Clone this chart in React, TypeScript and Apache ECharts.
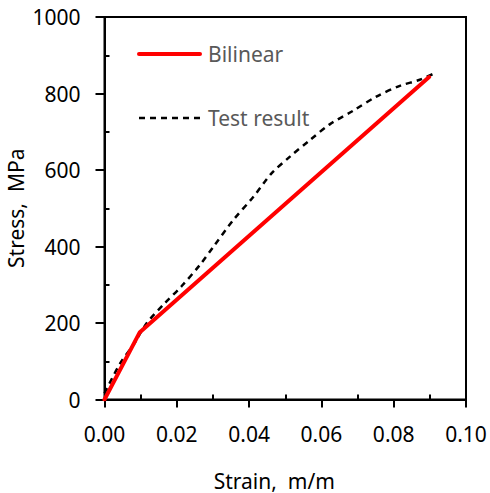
import React, { useEffect, useRef } from "react";
import * as echarts from "echarts";

const bilinearStrain = [0, 0.0097, 0.0898];
const bilinearStress = [0, 175, 843];

const testStrain = [0, 0.0043, 0.008, 0.0117, 0.0167, 0.0213, 0.0264, 0.0301, 0.0356, 0.0412, 0.0462, 0.0513, 0.0568, 0.0624, 0.0688, 0.0752, 0.0817, 0.0872, 0.0918];
const testStress = [16, 94, 143, 200, 252, 296, 352, 399, 469, 530, 591, 635, 678, 720, 755, 792, 820, 836, 855];

const xMinorTicks = [0.01, 0.03, 0.05, 0.07, 0.09];
const yMinorTicks = [100, 300, 500, 700, 900];

const FONT = "'Noto Sans', 'Open Sans', sans-serif";

export default function App() {
  const ref = useRef<HTMLDivElement>(null);
  useEffect(() => {
    if (!ref.current) return;
    const chart = echarts.init(ref.current, null, { renderer: "svg" });
    const bilinear = bilinearStrain.map((x, i) => [x, bilinearStress[i]]);
    const test = testStrain.map((x, i) => [x, testStress[i]]);
    chart.setOption({
      animation: false,
      backgroundColor: "#fff",
      textStyle: { fontFamily: FONT },
      grid: {
        left: 104.5,
        right: 24,
        top: 17,
        bottom: 93.5,
        outerBoundsMode: "none",
        containLabel: false,
        show: true,
        borderColor: "#000",
        borderWidth: 2,
        backgroundColor: "transparent",
      },
      legend: {
        orient: "vertical",
        left: 137,
        top: 42,
        padding: 0,
        itemWidth: 61,
        itemHeight: 14,
        itemGap: 40,
        itemStyle: { opacity: 0 },
        textStyle: { color: "#595959", fontSize: 21, lineHeight: 24, fontFamily: FONT, padding: [0, 0, 0, 3] },
        data: [
          { name: "Bilinear", lineStyle: { color: "#ff0000", width: 4, cap: "round" } },
          { name: "Test result", lineStyle: { color: "#000", width: 2.5, type: [6, 5] } },
        ],
      },
      xAxis: [
        {
          type: "value",
          min: 0,
          max: 0.1,
          interval: 0.02,
          name: "Strain,  m/m",
          nameLocation: "middle",
          nameGap: 70,
          nameTextStyle: { color: "#000", fontSize: 21, lineHeight: 22, fontFamily: FONT, padding: [0, 22, 0, 0] },
          axisLine: { lineStyle: { color: "#000", width: 2 } },
          axisTick: { show: true, length: 8, lineStyle: { color: "#000", width: 2 } },
          axisLabel: { color: "#000", fontSize: 21, margin: 24, fontFamily: FONT, formatter: (v: number) => v.toFixed(2) },
          splitLine: { show: false },
        },
        {
          type: "value",
          min: 0,
          max: 0.1,
          position: "bottom",
          axisLine: { show: false },
          axisTick: { show: true, inside: true, length: 5, customValues: xMinorTicks, lineStyle: { color: "#000", width: 2 } },
          axisLabel: { show: false },
          splitLine: { show: false },
        },
      ],
      yAxis: [
        {
          type: "value",
          min: 0,
          max: 1000,
          interval: 200,
          name: "Stress,  MPa",
          nameLocation: "middle",
          nameGap: 78,
          nameMoveOverlap: false,
          nameTextStyle: { color: "#000", fontSize: 21, lineHeight: 22, fontFamily: FONT },
          axisLine: { lineStyle: { color: "#000", width: 2 } },
          axisTick: { show: true, length: 9, lineStyle: { color: "#000", width: 2 } },
          axisLabel: { color: "#000", fontSize: 21, margin: 24, fontFamily: FONT, formatter: (v: number) => String(v) },
          splitLine: { show: false },
        },
        {
          type: "value",
          min: 0,
          max: 1000,
          position: "left",
          axisLine: { show: false },
          axisTick: { show: true, inside: true, length: 5, customValues: yMinorTicks, lineStyle: { color: "#000", width: 2 } },
          axisLabel: { show: false },
          splitLine: { show: false },
        },
      ],
      series: [
        {
          name: "Bilinear",
          type: "line",
          xAxisIndex: 0,
          yAxisIndex: 0,
          data: bilinear,
          symbol: "none",
          lineStyle: { color: "#ff0000", width: 4, cap: "round" },
          itemStyle: { color: "#ff0000" },
          z: 3,
        },
        {
          name: "Test result",
          type: "line",
          xAxisIndex: 0,
          yAxisIndex: 0,
          data: test,
          symbol: "none",
          smooth: 0.3,
          lineStyle: { color: "#000", width: 2.5, type: [6, 5] },
          itemStyle: { color: "#000" },
          z: 2,
        },
      ],
    });
    return () => chart.dispose();
  }, []);
  return <div ref={ref} style={{ position: "fixed", left: 0, top: 0, width: 490, height: 493 }} />;
}
